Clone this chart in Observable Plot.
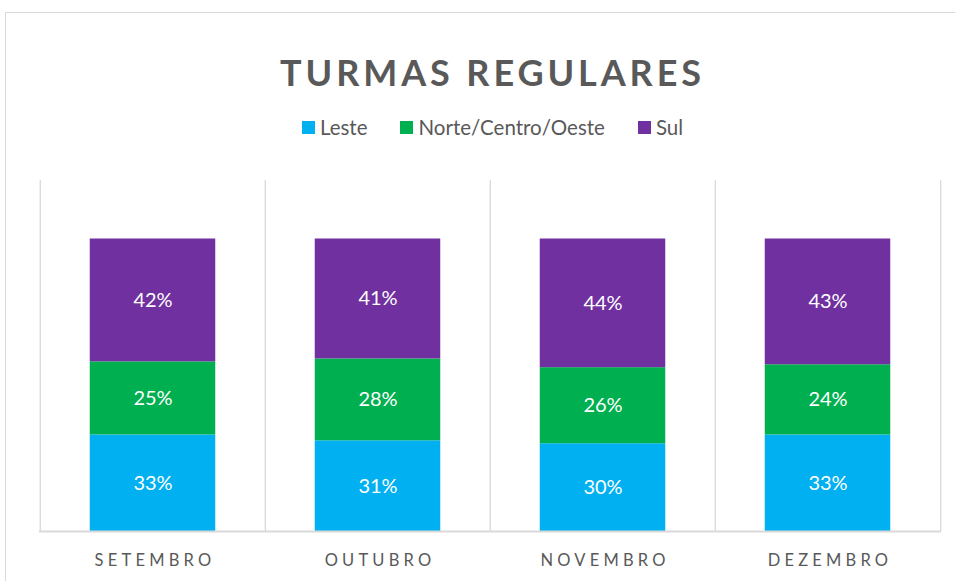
<!DOCTYPE html>
<html>
<head>
<meta charset="utf-8">
<script src="https://cdn.jsdelivr.net/npm/d3@7"></script>
<script src="https://cdn.jsdelivr.net/npm/@observablehq/plot@0.6"></script>
<style>
  html, body { margin: 0; padding: 0; background: #fff; width: 955px; height: 581px; overflow: hidden; font-family: Lato, "Open Sans", sans-serif; }
  #frame { position: absolute; left: 5px; top: 12px; width: 1000px; height: 1000px; border: 1px solid #d9d9d9; box-sizing: border-box; }
  #title { position: absolute; left: 5px; width: 975px; top: 50px; text-align: center; font-size: 36px; font-weight: 700; color: #595959; letter-spacing: 3.9px; line-height: 44px; }
  #legend { position: absolute; left: 5px; width: 975px; top: 114px; display: flex; justify-content: center; gap: 33px; font-size: 20.5px; color: #595959; line-height: 26px; }
  .item { display: flex; align-items: center; gap: 5px; }
  .sw { width: 13px; height: 13px; display: inline-block; }
  #chart { position: absolute; left: 0; top: 150px; }
  #chart svg g[aria-label="x-axis tick label"] text { letter-spacing: 4.2px; }
</style>
</head>
<body>
<div id="frame"></div>
<div id="title">TURMAS REGULARES</div>
<div id="legend"></div>
<div id="chart"></div>
<script>
const months = ["SETEMBRO", "OUTUBRO", "NOVEMBRO", "DEZEMBRO"];
const regions = ["Leste", "Norte/Centro/Oeste", "Sul"];
const colors = ["#00B0F0", "#00B050", "#7030A0"];
const leste = [33, 31, 30, 33];
const norte = [25, 28, 26, 24];
const sul = [42, 41, 44, 43];

const series = [leste, norte, sul];
const data = [];
regions.forEach((r, i) => months.forEach((m, j) => data.push({month: m, region: r, value: series[i][j]})));

// legend
const lg = document.getElementById("legend");
regions.forEach((r, i) => {
  const it = document.createElement("div");
  it.className = "item";
  it.innerHTML = `<span class="sw" style="background:${colors[i]}"></span><span>${r}</span>`;
  lg.appendChild(it);
});

const W = 955, H = 431, mL = 39, mR = 14, mT = 30, mB = 50;
const step = (W - mL - mR) / months.length;
const barW = 126;
const inset = (step - barW) / 2;
const grid = "#d9d9d9";

const chart = Plot.plot({
  width: W, height: H,
  marginLeft: mL, marginRight: mR, marginTop: mT, marginBottom: mB,
  style: {fontFamily: "Lato, 'Open Sans', sans-serif", background: "transparent"},
  x: {domain: months, padding: 0, label: null},
  y: {domain: [0, 120], axis: null},
  color: {domain: regions, range: colors},
  marks: [
    Plot.ruleX(months, {x: d => d, dx: -step / 2, stroke: grid, strokeWidth: 1.3}),
    Plot.ruleX([months[months.length - 1]], {x: d => d, dx: step / 2, stroke: grid, strokeWidth: 1.3}),
    Plot.barY(data, Plot.stackY({x: "month", y: "value", fill: "region", insetLeft: inset, insetRight: inset})),
    Plot.textY(data, Plot.stackY({x: "month", y: "value", z: "region", text: d => d.value + "%", fill: "white", fontSize: 20})),
    Plot.ruleY([0], {stroke: grid, strokeWidth: 2}),
    Plot.axisX({tickSize: 0, tickPadding: 23, fontSize: 16.5, fill: "#595959", label: null, dx: 2})
  ]
});
document.getElementById("chart").appendChild(chart);
</script>
</body>
</html>
